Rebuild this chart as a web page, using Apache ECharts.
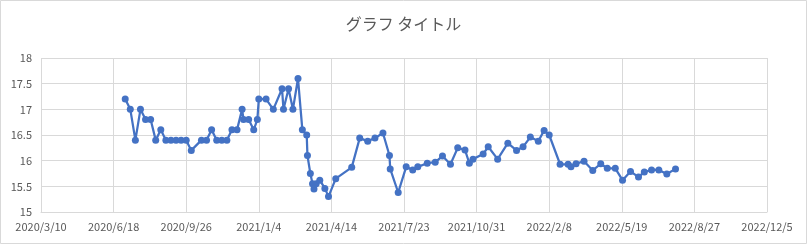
<!DOCTYPE html>
<html>
<head>
<meta charset="utf-8">
<script src="https://cdn.jsdelivr.net/npm/echarts@6/dist/echarts.min.js"></script>
<style>
html,body{margin:0;padding:0;background:#fff;}
#c{width:807px;height:244px;}
</style>
</head>
<body>
<div id="c"></div>
<script>
var titleText = 'グラフ タイトル';
var startDate = '2020-03-10';
var dates = [
'2020-07-04','2020-07-11','2020-07-18','2020-07-25','2020-08-01','2020-08-08','2020-08-15','2020-08-22','2020-08-29','2020-09-05',
'2020-09-12','2020-09-19','2020-09-26','2020-10-03','2020-10-17','2020-10-24','2020-10-31','2020-11-07','2020-11-14','2020-11-21',
'2020-11-28','2020-12-05','2020-12-12','2020-12-14','2020-12-21','2020-12-28','2021-01-02','2021-01-04','2021-01-14','2021-01-24',
'2021-02-05','2021-02-07','2021-02-14','2021-02-20','2021-02-27','2021-03-05','2021-03-11','2021-03-12','2021-03-16','2021-03-19',
'2021-03-21','2021-03-24','2021-03-29','2021-04-05','2021-04-10','2021-04-20','2021-05-12','2021-05-23','2021-06-03','2021-06-13',
'2021-06-24','2021-07-03','2021-07-04','2021-07-15','2021-07-26','2021-08-04','2021-08-11','2021-08-24','2021-09-04','2021-09-14',
'2021-09-25','2021-10-05','2021-10-15','2021-10-21','2021-10-26','2021-11-09','2021-11-16','2021-11-29','2021-12-13','2021-12-25',
'2022-01-03','2022-01-13','2022-01-24','2022-02-01','2022-02-08','2022-02-23','2022-03-06','2022-03-10','2022-03-17','2022-03-28',
'2022-04-09','2022-04-20','2022-04-29','2022-05-10','2022-05-20','2022-05-31','2022-06-11','2022-06-19','2022-06-29','2022-07-09',
'2022-07-20','2022-08-01'
];
var values = [
17.2,17.0,16.4,17.0,16.8,16.8,16.4,16.6,16.4,16.4,
16.4,16.4,16.4,16.2,16.4,16.4,16.6,16.4,16.4,16.4,
16.6,16.6,17.0,16.8,16.8,16.6,16.8,17.2,17.2,17.0,
17.4,17.0,17.4,17.0,17.6,16.6,16.5,16.1,15.75,15.55,
15.45,15.55,15.62,15.46,15.3,15.65,15.87,16.44,16.38,16.44,
16.54,16.1,15.84,15.38,15.88,15.82,15.88,15.95,15.97,16.09,
15.93,16.25,16.21,15.95,16.03,16.13,16.27,16.03,16.34,16.2,
16.27,16.46,16.38,16.59,16.5,15.93,15.93,15.88,15.94,15.99,
15.81,15.94,15.85,15.85,15.62,15.79,15.68,15.78,15.82,15.82,
15.74,15.84
];
var xDaysMax = 1000;
var xDaysStep = 100;
var yMin = 15, yMax = 18, yStep = 0.5;

function toUTC(s){var p=s.split('-');return Date.UTC(+p[0],+p[1]-1,+p[2]);}
var t0 = toUTC(startDate);
var DAY = 86400000;
function dayOf(s){return Math.round((toUTC(s)-t0)/DAY);}
function fmtDay(d){var dt=new Date(t0+d*DAY);return dt.getUTCFullYear()+'/'+(dt.getUTCMonth()+1)+'/'+dt.getUTCDate();}

var seriesData = dates.map(function(d,i){return [dayOf(d), values[i]];});

var chart = echarts.init(document.getElementById('c'), null, {renderer:'canvas'});
var gridColor = '#d9d9d9';
var textColor = '#595959';
chart.setOption({
  animation:false,
  backgroundColor:'#ffffff',
  title:{
    text:titleText, left:'center', top:11,
    textStyle:{fontFamily:'"Noto Sans CJK JP"', fontSize:16, fontWeight:'normal', color:textColor}
  },
  graphic:[{type:'rect', shape:{x:0.5,y:0.5,width:806,height:243}, style:{fill:null, stroke:gridColor, lineWidth:1}, silent:true, z:-1}],
  grid:{left:41, right:40, top:58, bottom:32, containLabel:false},
  xAxis:{
    type:'value', min:0, max:xDaysMax, interval:xDaysStep,
    axisLine:{show:true, lineStyle:{color:gridColor}},
    axisTick:{show:false},
    splitLine:{show:true, lineStyle:{color:gridColor}},
    axisLabel:{formatter:function(v){return fmtDay(v);}, color:textColor, fontSize:11, fontFamily:'"Noto Sans CJK JP"', margin:9, showMinLabel:true, showMaxLabel:true}
  },
  yAxis:{
    type:'value', min:yMin, max:yMax, interval:yStep,
    axisLine:{show:false}, axisTick:{show:false},
    splitLine:{show:true, lineStyle:{color:gridColor}},
    axisLabel:{color:textColor, fontSize:11, fontFamily:'"Noto Sans CJK JP"', margin:9}
  },
  series:[{
    type:'line', data:seriesData,
    symbol:'circle', symbolSize:7,
    lineStyle:{color:'#4472C4', width:2.25},
    itemStyle:{color:'#4472C4'}
  }]
});
</script>
</body>
</html>
